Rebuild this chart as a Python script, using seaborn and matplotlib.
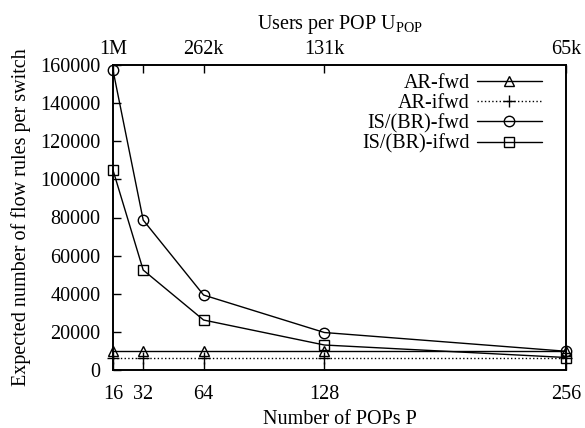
import numpy as np
import pandas as pd
import matplotlib
matplotlib.use("Agg")
import matplotlib.pyplot as plt
import seaborn as sns

# Data
pops = [16, 32, 64, 128, 256]
ar_fwd = [9830, 9830, 9830, 9830, 9830]
ar_ifwd = [6554, 6554, 6554, 6554, 6554]
is_fwd = [157286, 78643, 39322, 19661, 9830]
is_ifwd = [104858, 52429, 26214, 13107, 6554]
series_names = ["AR-fwd", "AR-ifwd", "IS/(BR)-fwd", "IS/(BR)-ifwd"]
top_ticks = [16, 32, 64, 128, 256]
top_labels = ["1M", "", "262k", "131k", "65k"]
y_ticks = [0, 20000, 40000, 60000, 80000, 100000, 120000, 140000, 160000]

sns.set_style("ticks")
plt.rcParams["font.family"] = ["Liberation Serif", "DejaVu Serif"]
plt.rcParams["mathtext.fontset"] = "custom"
plt.rcParams["mathtext.rm"] = "Liberation Serif"
plt.rcParams["mathtext.it"] = "Liberation Serif:italic"
plt.rcParams["text.color"] = "black"
plt.rcParams["axes.labelcolor"] = "black"
plt.rcParams["xtick.color"] = "black"
plt.rcParams["ytick.color"] = "black"

FS = 14.5

fig = plt.figure(figsize=(5.85, 4.28), dpi=100)
ax = fig.add_axes([113/585, 1-370/428, (566-113)/585, (370-65)/428])

styles = [
    dict(marker="^", linestyle="-"),
    dict(marker="+", linestyle=":"),
    dict(marker="o", linestyle="-"),
    dict(marker="s", linestyle="-"),
]
values = [ar_fwd, ar_ifwd, is_fwd, is_ifwd]
for name, vals, st in zip(series_names, values, styles):
    df = pd.DataFrame({"P": pops, "v": vals})
    sns.lineplot(data=df, x="P", y="v", ax=ax, color="black", lw=1.0,
                 marker=st["marker"], linestyle=st["linestyle"],
                 markersize=8 if st["marker"] == "+" else 7.5,
                 markerfacecolor="none", markeredgecolor="black",
                 markeredgewidth=1.0, label=name, clip_on=False, zorder=3)

ax.set_xlim(16, 256)
ax.set_ylim(0, 160000)
ax.set_xticks(pops)
ax.set_xticklabels([str(p) for p in pops])
ax.set_yticks(y_ticks)
ax.set_yticklabels([str(t) for t in y_ticks])
ax.tick_params(axis="y", direction="in", length=6, width=1, labelsize=FS, pad=9)
ax.tick_params(axis="x", direction="in", length=6, width=1, labelsize=FS, pad=11)
ax.set_xlabel("Number of POPs P", fontsize=FS, labelpad=4)
ax.set_ylabel("Expected number of flow rules per switch", fontsize=FS, labelpad=7)
for s in ax.spines.values():
    s.set_linewidth(1.2)
    s.set_color("black")

ax2 = ax.twiny()
ax2.set_xlim(16, 256)
ax2.set_xticks(top_ticks)
ax2.set_xticklabels(top_labels)
ax2.tick_params(direction="in", length=6, width=1, labelsize=FS, pad=4)
ax2.set_xlabel(r"Users per POP U$_{\mathrm{POP}}$", fontsize=FS, labelpad=8)
for s in ax2.spines.values():
    s.set_linewidth(1.2)
    s.set_color("black")

leg = ax.legend(loc="upper right", frameon=False, markerfirst=False,
                fontsize=FS, handlelength=3.25, handletextpad=0.35,
                labelspacing=0.05, borderaxespad=0.0, bbox_to_anchor=(0.965, 0.998))
for t in leg.get_texts():
    t.set_ha("right")
leg._legend_box.align = "right"

fig.savefig("out.png", dpi=100)
